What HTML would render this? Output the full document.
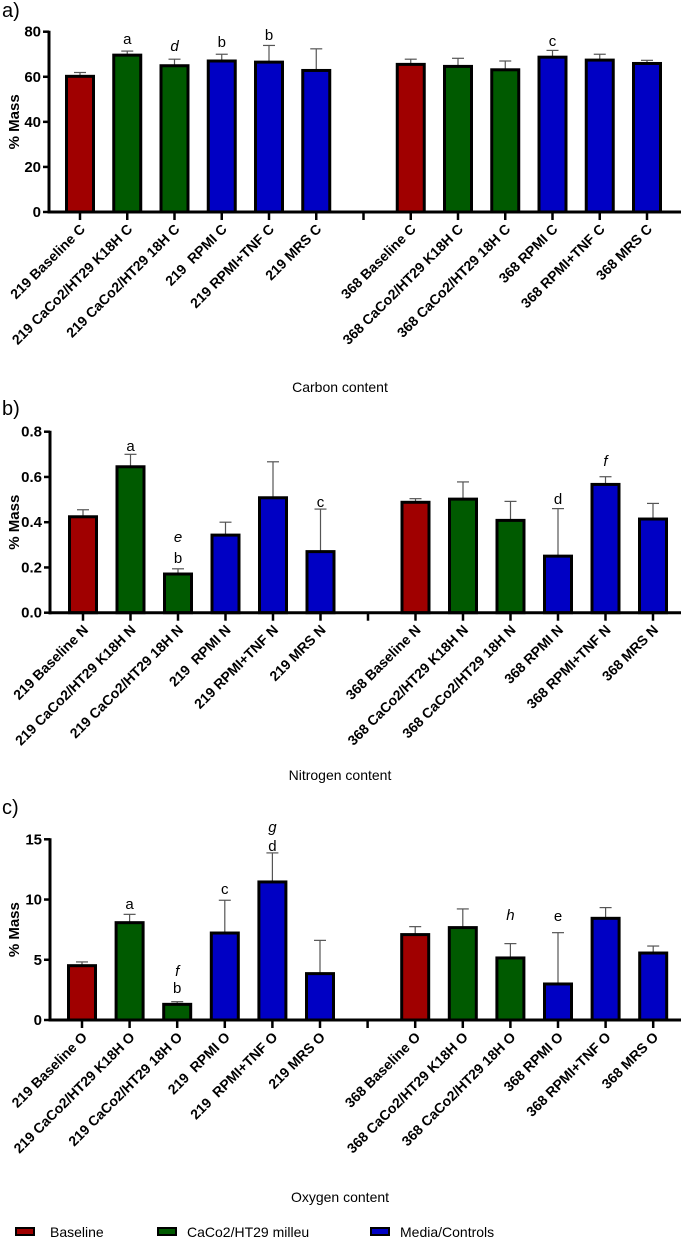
<!DOCTYPE html>
<html><head><meta charset="utf-8">
<style>
html,body{margin:0;padding:0;background:#fff;}
svg{display:block;font-family:"Liberation Sans",Arial,sans-serif;}
svg text{white-space:pre;}
</style></head>
<body>
<svg id="fig" width="689" height="1239" viewBox="0 0 689 1239" xmlns="http://www.w3.org/2000/svg"></svg>
<script>
// ---- data ----
const categoriesC = ["219 Baseline C","219 CaCo2/HT29 K18H C","219 CaCo2/HT29 18H C","219  RPMI C","219 RPMI+TNF C","219 MRS C","368 Baseline C","368 CaCo2/HT29 K18H C","368 CaCo2/HT29 18H C","368 RPMI C","368 RPMI+TNF C","368 MRS C"];
const categoriesN = ["219 Baseline N","219 CaCo2/HT29 K18H N","219 CaCo2/HT29 18H N","219  RPMI N","219 RPMI+TNF N","219 MRS N","368 Baseline N","368 CaCo2/HT29 K18H N","368 CaCo2/HT29 18H N","368 RPMI N","368 RPMI+TNF N","368 MRS N"];
const categoriesO = ["219 Baseline O","219 CaCo2/HT29 K18H O","219 CaCo2/HT29 18H O","219  RPMI O","219  RPMI+TNF O","219 MRS O","368 Baseline O","368 CaCo2/HT29 K18H O","368 CaCo2/HT29 18H O","368 RPMI O","368 RPMI+TNF O","368 MRS O"];
const groups = ["baseline","caco","caco","media","media","media","baseline","caco","caco","media","media","media"];
const carbonValues = [60.2,69.6,64.9,67.0,66.5,62.8,65.5,64.6,63.1,68.7,67.4,65.9];
const carbonErrTop = [61.9,71.4,67.8,70.0,73.9,72.4,67.8,68.2,67.0,71.7,70.0,67.3];
const nitrogenValues = [0.424,0.645,0.171,0.343,0.508,0.27,0.488,0.502,0.408,0.25,0.567,0.414];
const nitrogenErrTop = [0.455,0.70,0.194,0.40,0.667,0.458,0.504,0.578,0.492,0.46,0.601,0.483];
const oxygenValues = [4.51,8.08,1.30,7.22,11.46,3.85,7.09,7.67,5.15,2.99,8.44,5.56];
const oxygenErrTop = [4.82,8.77,1.52,9.94,13.87,6.61,7.75,9.22,6.34,7.25,9.33,6.14];
const carbonTicks = [0,20,40,60,80];
const nitrogenTicks = [0.0,0.2,0.4,0.6,0.8];
const oxygenTicks = [0,5,10,15];
const carbonLetters = [[1,"a",false,38],[2,"d",true,45],[3,"b",false,41],[4,"b",false,34],[9,"c",false,40]];
const nitrogenLetters = [[1,"a",false,445],[2,"e",true,536],[2,"b",false,557],[5,"c",false,501],[9,"d",false,498],[10,"f",true,460]];
const oxygenLetters = [[1,"a",false,903],[2,"f",true,970],[2,"b",false,987],[3,"c",false,888],[4,"g",true,826],[4,"d",false,845],[8,"h",true,914],[9,"e",false,915]];

const colors = {baseline:"#a00000", caco:"#005a00", media:"#0000c4"};
const svg = document.getElementById('fig');
const NS = "http://www.w3.org/2000/svg";
function mk(tag, attrs, parent){const e=document.createElementNS(NS,tag);for(const k in attrs)e.setAttribute(k,attrs[k]);(parent||svg).appendChild(e);return e;}

function drawPanel(o){
  const g = mk('g',{});
  
  
  const yS = v => o.y0 - (v - o.min)/(o.max - o.min)*(o.y0 - o.yTop);
  const xS = i => o.x0 + o.step*(i<6?i:i+1);
  const pl = mk('text',{x:2,y:o.letterY,'font-size':20},g); pl.textContent=o.letter;
  
  
  const ya = mk('line',{x1:o.axX,y1:o.yTop-1,x2:o.axX,y2:o.y0+1.5,stroke:'#000','stroke-width':3},g);
  
  
  o.ticks.forEach(t=>{
    const y=yS(t);
    mk('line',{x1:o.axX-6,y1:y,x2:o.axX,y2:y,stroke:'#000','stroke-width':2.5},g);
    const tl=mk('text',{x:o.axX-8,y:y+5,'text-anchor':'end','font-size':15,'font-weight':'bold'},g);
    tl.textContent=o.fmt(t);
    
    
  });
  const yt=mk('text',{x:0,y:0,'text-anchor':'middle','font-size':15,'font-weight':'bold',transform:`translate(19,${(o.yTop+o.y0)/2}) rotate(-90)`},g);
  yt.textContent='% Mass';
  
  
  o.values.forEach((v,i)=>{
    const cx=xS(i), w=27;
    const eb=mk('line',{x1:cx,y1:yS(o.err[i]),x2:cx,y2:yS(v),stroke:'#555','stroke-width':1.2},g);
    
    
    mk('line',{x1:cx-6,y1:yS(o.err[i]),x2:cx+6,y2:yS(o.err[i]),stroke:'#555','stroke-width':1.2},g);
    const r=mk('rect',{x:cx-w/2,y:yS(v),width:w,height:o.y0-yS(v),fill:colors[groups[i]],stroke:'#000','stroke-width':3},g);
    
    
  });
  const xa=mk('line',{x1:o.axX-1.5,y1:o.y0,x2:681,y2:o.y0,stroke:'#000','stroke-width':3},g);
  
  
  for(let k=0;k<13;k++){const x=o.x0+o.step*k;mk('line',{x1:x,y1:o.y0,x2:x,y2:o.y0+8,stroke:'#000','stroke-width':2.5},g);}
  o.cats.forEach((c,i)=>{
    const cx=xS(i)+6, cy=o.y0+18;
    const t=mk('text',{x:0,y:0,'text-anchor':'end','font-size':14,'font-weight':'bold',transform:`translate(${cx},${cy}) rotate(-45)`},g);
    t.textContent=c;
    
    
  });
  o.letters.forEach(L=>{
    const t=mk('text',{x:xS(L[0]),y:L[3]+6,'text-anchor':'middle','font-size':15,'font-style':L[2]?'italic':'normal'},g);
    t.textContent=L[1];
    
    
  });
  const ct=mk('text',{x:340,y:o.titleY+5,'text-anchor':'middle','font-size':14},g);
  ct.textContent=o.title;
  
  
}

drawPanel({name:'carbon',letter:'a)',letterY:17,cats:categoriesC,values:carbonValues,err:carbonErrTop,ticks:carbonTicks,min:0,max:80,y0:212,yTop:31.7,axX:49,x0:80,step:47.25,fmt:t=>String(t),letters:carbonLetters,title:'Carbon content',titleY:387});
drawPanel({name:'nitrogen',letter:'b)',letterY:415,cats:categoriesN,values:nitrogenValues,err:nitrogenErrTop,ticks:nitrogenTicks,min:0,max:0.8,y0:612.7,yTop:431.7,axX:50,x0:83,step:47.5,fmt:t=>t.toFixed(1),letters:nitrogenLetters,title:'Nitrogen content',titleY:775});
drawPanel({name:'oxygen',letter:'c)',letterY:814,cats:categoriesO,values:oxygenValues,err:oxygenErrTop,ticks:oxygenTicks,min:0,max:15,y0:1020,yTop:839.3,axX:50,x0:82,step:47.6,fmt:t=>String(t),letters:oxygenLetters,title:'Oxygen content',titleY:1197});

const legendItems = [["Baseline","baseline",15,50],["CaCo2/HT29 milleu","caco",157,187],["Media/Controls","media",370,400]];
legendItems.forEach(L=>{
  const g=mk('g',{});
  
  
  mk('rect',{x:L[2]+1,y:1228,width:18,height:7,fill:colors[L[1]],stroke:'#000','stroke-width':2},g);
  const t=mk('text',{x:L[3],y:1237,'font-size':14},g); t.textContent=L[0];
});
</script>
</body></html>
